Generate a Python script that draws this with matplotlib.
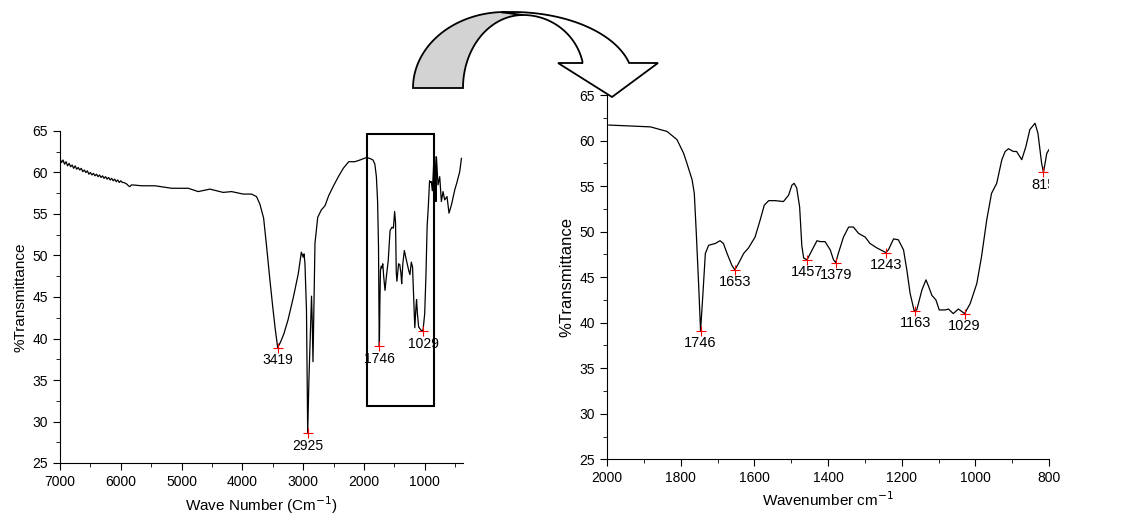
import matplotlib
matplotlib.use('Agg')
import matplotlib.pyplot as plt
import numpy as np
from matplotlib.patches import Polygon, Rectangle
from matplotlib.ticker import MultipleLocator

plt.rcParams['font.family'] = ['Liberation Sans', 'DejaVu Sans']

# full spectrum (left panel)
full_wn = [7000, 6975, 6950, 6925, 6900, 6875, 6850, 6825, 6800, 6775, 6750, 6725,
           6700, 6675, 6650, 6625, 6600, 6575, 6550, 6525, 6500, 6475, 6450, 6425,
           6400, 6375, 6350, 6325, 6300, 6275, 6250, 6225, 6200, 6175, 6150, 6125,
           6100, 6075, 6050, 6025, 6000, 5975, 5950, 5925, 5900, 5875, 5850, 5825,
           5800, 5657, 5437, 5163, 4890, 4726, 4533, 4315, 4178, 3986, 3849, 3767,
           3712, 3650, 3600, 3550, 3500, 3460, 3419, 3370, 3320, 3250, 3160, 3080,
           3030, 3000, 2985, 2970, 2945, 2925, 2905, 2880, 2862, 2850, 2838, 2820,
           2805, 2760, 2700, 2640, 2580, 2500, 2420, 2340, 2250, 2150, 2068, 1960,
           1904, 1850, 1820, 1795, 1775, 1760, 1752, 1746, 1738, 1728, 1715, 1705,
           1690, 1675, 1653, 1630, 1600, 1570, 1540, 1515, 1495, 1480, 1468, 1457,
           1430, 1410, 1390, 1379, 1360, 1335, 1300, 1260, 1243, 1220, 1200, 1185,
           1163, 1145, 1134, 1120, 1100, 1060, 1029, 1000, 980, 960, 940, 920,
           905, 890, 875, 862, 850, 835, 825, 815, 807, 781, 753, 726,
           699, 671, 633, 600, 560, 506, 470, 424, 396]
full_t = [61.7, 61.2, 61.5, 61.0, 61.3, 60.8, 61.1, 60.7, 60.9, 60.5, 60.8, 60.4,
          60.6, 60.3, 60.5, 60.1, 60.3, 60.0, 60.2, 59.8, 60.0, 59.7, 59.9, 59.6,
          59.8, 59.5, 59.7, 59.4, 59.6, 59.3, 59.5, 59.2, 59.4, 59.1, 59.3, 59.0,
          59.2, 58.9, 59.1, 58.8, 59.0, 58.8, 58.8, 58.7, 58.6, 58.4, 58.3, 58.5,
          58.5, 58.4, 58.4, 58.1, 58.1, 57.7, 58.0, 57.6, 57.7, 57.4, 57.4, 57.1,
          56.2, 54.5, 51.0, 47.3, 43.8, 41.2, 38.9, 39.6, 40.5, 42.2, 45.0, 47.8,
          50.4, 49.8, 50.2, 49.0, 43.4, 28.6, 35.0, 41.0, 45.1, 42.0, 37.2, 45.0,
          51.5, 54.6, 55.5, 56.0, 57.2, 58.4, 59.5, 60.5, 61.3, 61.3, 61.5, 61.8,
          61.7, 61.5, 61.0, 59.5, 56.5, 51.0, 43.0, 39.1, 44.0, 48.2, 48.7, 48.5,
          49.0, 47.5, 45.8, 47.5, 49.4, 53.0, 53.4, 53.3, 55.3, 54.0, 48.0, 46.9,
          49.0, 48.9, 47.8, 46.6, 49.0, 50.6, 49.4, 48.1, 47.7, 49.2, 48.6, 45.5,
          41.3, 43.6, 44.7, 43.0, 41.4, 41.0, 40.9, 43.0, 47.5, 53.5, 56.0, 59.0,
          58.8, 58.9, 57.8, 59.5, 61.5, 61.9, 60.0, 56.5, 61.9, 58.5, 59.5, 56.5,
          57.7, 56.7, 57.1, 55.1, 56.1, 57.9, 58.8, 60.1, 61.7]

full_peaks = [3419, 2925, 1746, 1029]
full_peak_t = [38.9, 28.6, 39.1, 40.9]

# zoomed region (right panel)
zoom_wn = [1995, 1882, 1837, 1810, 1792, 1783, 1769, 1763, 1758, 1751, 1746, 1740,
           1733, 1724, 1715, 1706, 1693, 1684, 1674, 1661, 1653, 1643, 1629, 1616,
           1598, 1584, 1573, 1561, 1543, 1521, 1507, 1498, 1492, 1485, 1477, 1471,
           1466, 1457, 1448, 1430, 1421, 1408, 1394, 1385, 1379, 1372, 1358, 1344,
           1331, 1317, 1299, 1286, 1267, 1243, 1236, 1222, 1209, 1195, 1186, 1177,
           1166, 1159, 1145, 1134, 1127, 1118, 1107, 1098, 1082, 1073, 1060, 1046,
           1029, 1014, 996, 983, 969, 956, 942, 928, 919, 910, 897, 888,
           874, 863, 852, 838, 830, 820, 815, 806, 800]
zoom_t = [61.7, 61.5, 61.0, 60.1, 58.6, 57.5, 55.7, 54.2, 50.2, 44.0, 39.1, 42.9,
          47.6, 48.5, 48.6, 48.7, 49.0, 48.7, 47.6, 46.3, 45.8, 46.5, 47.6, 48.2,
          49.4, 51.3, 52.9, 53.4, 53.4, 53.3, 54.0, 55.1, 55.3, 54.8, 52.7, 48.4,
          47.1, 46.9, 47.6, 49.0, 48.9, 48.9, 48.0, 46.9, 46.6, 47.6, 49.4, 50.5,
          50.5, 49.8, 49.4, 48.7, 48.2, 47.7, 48.0, 49.2, 49.1, 48.0, 45.8, 43.2,
          41.3, 41.4, 43.6, 44.7, 44.0, 43.0, 42.5, 41.4, 41.4, 41.5, 41.0, 41.5,
          41.0, 42.1, 44.3, 47.3, 51.3, 54.2, 55.3, 57.9, 58.8, 59.1, 58.8, 58.8,
          57.9, 59.3, 61.2, 61.9, 60.8, 57.5, 56.5, 58.6, 59.0]

zoom_peaks = [1746, 1653, 1457, 1379, 1243, 1163, 1029, 815]
zoom_peak_t = [39.1, 45.8, 46.9, 46.6, 47.7, 41.3, 41.0, 56.5]

W, H = 1123, 523
fig = plt.figure(figsize=(W / 100, H / 100), dpi=100)


def style_axes(ax, label_size):
    ax.spines['top'].set_visible(False)
    ax.spines['right'].set_visible(False)
    ax.tick_params(which='both', direction='out', labelsize=10)
    ax.tick_params(which='major', length=5)
    ax.tick_params(which='minor', length=3)
    ax.set_ylim(25, 65)
    ax.yaxis.set_major_locator(MultipleLocator(5))
    ax.yaxis.set_minor_locator(MultipleLocator(2.5))
    ax.set_ylabel('%Transmittance', fontsize=label_size)


def mark_peaks(ax, wn, t, size, clip=False):
    ax.plot(wn, t, '+', color='red', ms=7, mew=0.8, clip_on=False)
    for w, v in zip(wn, t):
        a = ax.annotate(str(w), (w, v), xytext=(0, -4), textcoords='offset points',
                        ha='center', va='top', fontsize=size, annotation_clip=False)
        if clip:
            a.set_clip_on(True)
            a.set_clip_path(ax.patch)


# left panel
ax1 = fig.add_axes([60 / W, 1 - 463 / H, 403 / W, 332 / H])
ax1.plot(full_wn, full_t, color='black', lw=0.9)
ax1.set_xlim(7000, 370)
ax1.xaxis.set_major_locator(MultipleLocator(1000))
ax1.xaxis.set_minor_locator(MultipleLocator(500))
style_axes(ax1, 11)
ax1.set_xlabel('Wave Number (Cm$^{-1}$)', fontsize=11)
mark_peaks(ax1, full_peaks, full_peak_t, 10)
ax1.add_patch(Rectangle((1950, 31.9), 850 - 1950, 64.6 - 31.9, fill=False,
                        ec='black', lw=1.5, clip_on=False))

# right panel
ax2 = fig.add_axes([607 / W, 1 - 459.3 / H, 442 / W, 364.3 / H])
ax2.plot(zoom_wn, zoom_t, color='black', lw=0.9)
ax2.set_xlim(2000, 800)
ax2.xaxis.set_major_locator(MultipleLocator(200))
ax2.xaxis.set_minor_locator(MultipleLocator(100))
style_axes(ax2, 12)
ax2.set_xlabel('Wavenumber cm$^{-1}$', fontsize=11)
mark_peaks(ax2, zoom_peaks, zoom_peak_t, 10.5, clip=True)


# curved arrow between the panels (figure pixel coordinates)
def to_fig(xs, ys):
    return np.column_stack([np.asarray(xs) / W, 1 - np.asarray(ys) / H])


th = np.radians(np.linspace(180, 90, 40))
ox, oy = 505 + 92 * np.cos(th), 88 - 76 * np.sin(th)
th2 = np.radians(np.linspace(90, 180, 40))
ix, iy = 523 + 60 * np.cos(th2), 88 - 73 * np.sin(th2)
back = to_fig(np.concatenate([ox, ix]), np.concatenate([oy, iy]))
fig.patches.append(Polygon(back, closed=True, fc='#d3d3d3', ec='black', lw=1.3,
                           transform=fig.transFigure, figure=fig))

th3 = np.radians(np.linspace(95, 14.5, 40))
rx, ry = 512 + 121 * np.cos(th3), 80 - 68 * np.sin(th3)
th4 = np.radians(np.linspace(11.5, 90, 40))
jx, jy = 523 + 61 * np.cos(th4), 75 - 60 * np.sin(th4)
front_x = np.concatenate([rx, [658, 612, 558, 583], jx])
front_y = np.concatenate([ry, [63, 97, 63, 63], jy])
fig.patches.append(Polygon(to_fig(front_x, front_y), closed=True, fc='white',
                           ec='black', lw=1.3, transform=fig.transFigure, figure=fig))

plt.savefig('out.png', dpi=100)
